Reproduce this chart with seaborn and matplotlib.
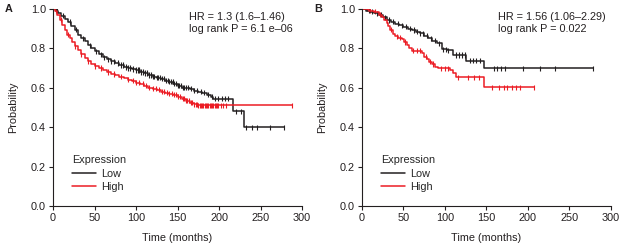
import numpy as np
import pandas as pd
import seaborn as sns
import matplotlib
matplotlib.use("Agg")
import matplotlib.pyplot as plt

# ---- panel A: KM step knots (time in months, survival probability) ----
a_low_t = [0, 3, 6, 10, 14, 18, 22, 26, 30, 34, 38, 42, 46, 50, 55, 60, 65, 70, 75, 80,
           85, 90, 95, 100, 105, 110, 115, 120, 125, 130, 135, 140, 145, 150, 155, 165,
           170, 175, 180, 185, 190, 193, 217, 230, 278]
a_low_s = [1.0, 0.99, 0.98, 0.965, 0.95, 0.935, 0.915, 0.895, 0.87, 0.85, 0.835, 0.815,
           0.80, 0.785, 0.77, 0.755, 0.745, 0.735, 0.725, 0.715, 0.705, 0.70, 0.695, 0.69,
           0.68, 0.675, 0.665, 0.655, 0.65, 0.645, 0.635, 0.63, 0.62, 0.61, 0.60, 0.595,
           0.585, 0.58, 0.575, 0.565, 0.555, 0.545, 0.48, 0.40, 0.40]
a_high_t = [0, 2, 5, 8, 11, 14, 17, 20, 23, 26, 30, 34, 38, 42, 46, 50, 55, 60, 65, 70, 75,
            80, 85, 90, 95, 100, 105, 110, 115, 120, 125, 130, 135, 140, 145, 150, 155,
            160, 165, 170, 175, 288]
a_high_s = [1.0, 0.99, 0.97, 0.945, 0.92, 0.895, 0.87, 0.85, 0.83, 0.81, 0.79, 0.77, 0.75,
            0.735, 0.72, 0.71, 0.70, 0.69, 0.68, 0.67, 0.665, 0.655, 0.65, 0.64, 0.635,
            0.625, 0.62, 0.61, 0.60, 0.595, 0.59, 0.58, 0.575, 0.57, 0.565, 0.555, 0.545,
            0.535, 0.525, 0.515, 0.51, 0.51]
a_low_cens = [5, 12, 20, 28, 36, 44, 52, 58, 62, 66, 70, 74, 78, 82, 84, 88, 90, 93, 96,
              100, 102, 104, 106, 108, 111, 113, 116, 118, 120, 122, 125, 127, 129, 131,
              134, 136, 138, 140, 142, 144, 146, 148, 150, 152, 154, 156, 158, 160, 163,
              166, 170, 174, 178, 182, 187, 191, 195, 199, 203, 207, 211, 221, 226, 233,
              240, 246, 262, 278]
a_high_cens = [4, 10, 18, 26, 34, 42, 50, 58, 66, 74, 82, 90, 96, 100, 104, 108, 112, 116,
               120, 124, 128, 131, 134, 137, 140, 143, 146, 148, 150, 153, 156, 158, 160,
               162, 164, 166, 168, 170, 172, 174, 175, 177, 178, 180, 181, 183, 184, 186,
               187, 189, 190, 192, 193, 195, 196, 198, 199, 202, 205, 208, 288]

# ---- panel B ----
b_low_t = [0, 5, 10, 15, 20, 25, 30, 35, 40, 45, 50, 55, 60, 65, 70, 75, 80, 85, 90, 96,
           102, 110, 126, 147, 278]
b_low_s = [1.0, 0.99, 0.986, 0.978, 0.97, 0.957, 0.944, 0.934, 0.924, 0.917, 0.91, 0.90,
           0.893, 0.885, 0.876, 0.863, 0.85, 0.838, 0.825, 0.795, 0.79, 0.766, 0.737,
           0.698, 0.698]
b_high_t = [0, 8, 14, 20, 24, 27, 30, 32, 34, 37, 40, 44, 48, 51, 54, 57, 60, 72, 75, 78,
            81, 84, 88, 92, 106, 110, 113, 147, 207]
b_high_s = [1.0, 0.99, 0.985, 0.97, 0.957, 0.944, 0.93, 0.915, 0.895, 0.875, 0.86, 0.853,
            0.846, 0.832, 0.817, 0.80, 0.788, 0.774, 0.758, 0.745, 0.732, 0.72, 0.707,
            0.698, 0.688, 0.676, 0.653, 0.602, 0.602]
b_low_cens = [8, 12, 18, 23, 28, 33, 38, 44, 48, 53, 58, 63, 66, 70, 74, 78, 83, 88, 93,
              98, 101, 104, 113, 117, 121, 124, 130, 134, 138, 142, 159, 163, 168, 172,
              194, 214, 233, 278]
b_high_cens = [6, 10, 16, 22, 35, 42, 46, 52, 62, 66, 70, 77, 82, 86, 95, 100, 104, 116,
               128, 135, 141, 157, 165, 171, 175, 181, 186, 191, 207]

hr_texts = ["HR = 1.3 (1.6\u20131.46)\nlog rank P = 6.1 e\u201306",
            "HR = 1.56 (1.06\u20132.29)\nlog rank P = 0.022"]
panel_labels = ["A", "B"]
groups = ["Low", "High"]
palette = {"Low": "#231f20", "High": "#ec1c24"}

sns.set_style("ticks")
plt.rcParams["font.family"] = ["Liberation Sans", "DejaVu Sans"]
fs = 7.8
ink = "#231f20"


def curve_frame(t_low, s_low, t_high, s_high):
    return pd.concat([
        pd.DataFrame({"time": t_low, "surv": s_low, "Expression": "Low"}),
        pd.DataFrame({"time": t_high, "surv": s_high, "Expression": "High"}),
    ], ignore_index=True)


def censor_frame(t_low, s_low, c_low, t_high, s_high, c_high):
    rows = []
    for name, t, s, c in [("Low", t_low, s_low, c_low), ("High", t_high, s_high, c_high)]:
        idx = np.searchsorted(np.array(t), np.array(c), side="right") - 1
        rows.append(pd.DataFrame({"time": c, "surv": np.array(s)[idx], "Expression": name}))
    return pd.concat(rows, ignore_index=True)


panels = [
    (a_low_t, a_low_s, a_low_cens, a_high_t, a_high_s, a_high_cens),
    (b_low_t, b_low_s, b_low_cens, b_high_t, b_high_s, b_high_cens),
]

fig = plt.figure(figsize=(6.24, 2.47), dpi=100)
lefts = [0.085, 0.580]
for i, (tl, sl, cl, th, sh, ch) in enumerate(panels):
    ax = fig.add_axes([lefts[i], 0.166, 0.399, 0.798])
    curves = curve_frame(tl, sl, th, sh)
    sns.lineplot(data=curves, x="time", y="surv", hue="Expression", hue_order=groups,
                 palette=palette, estimator=None, sort=False, drawstyle="steps-post",
                 linewidth=1.1, ax=ax)
    cens = censor_frame(tl, sl, cl, th, sh, ch)
    sns.scatterplot(data=cens, x="time", y="surv", hue="Expression", hue_order=groups,
                    palette=palette, marker="|", s=14, linewidth=0.8, legend=False, ax=ax)
    ax.set_xlim(0, 300)
    ax.set_ylim(0, 1.0)
    ax.set_xticks([0, 50, 100, 150, 200, 250, 300])
    ax.set_yticks([0.0, 0.2, 0.4, 0.6, 0.8, 1.0])
    ax.yaxis.set_major_formatter(matplotlib.ticker.FormatStrFormatter("%.1f"))
    ax.set_xlabel("Time (months)", color=ink, labelpad=7, fontsize=fs)
    ax.set_ylabel("Probability", color=ink, labelpad=9, fontsize=fs)
    ax.tick_params(length=3, width=0.8, colors=ink, labelsize=fs, pad=2)
    for sp in ["left", "bottom"]:
        ax.spines[sp].set_linewidth(0.8)
        ax.spines[sp].set_color(ink)
    sns.despine(ax=ax)
    ax.text(0.545, 0.985, hr_texts[i], transform=ax.transAxes, va="top", ha="left",
            color=ink, fontsize=fs, linespacing=1.3)
    leg = ax.legend(title="Expression", loc="lower left", frameon=False,
                    bbox_to_anchor=(0.06, 0.05), handlelength=2.2, handletextpad=0.5,
                    borderaxespad=0, labelspacing=0.3, fontsize=fs, title_fontsize=fs)
    leg._legend_box.align = "left"
    fig.text(lefts[i] - 0.077, 0.95, panel_labels[i], fontweight="bold", fontsize=fs,
             color=ink)

fig.savefig("out.png", dpi=100)
